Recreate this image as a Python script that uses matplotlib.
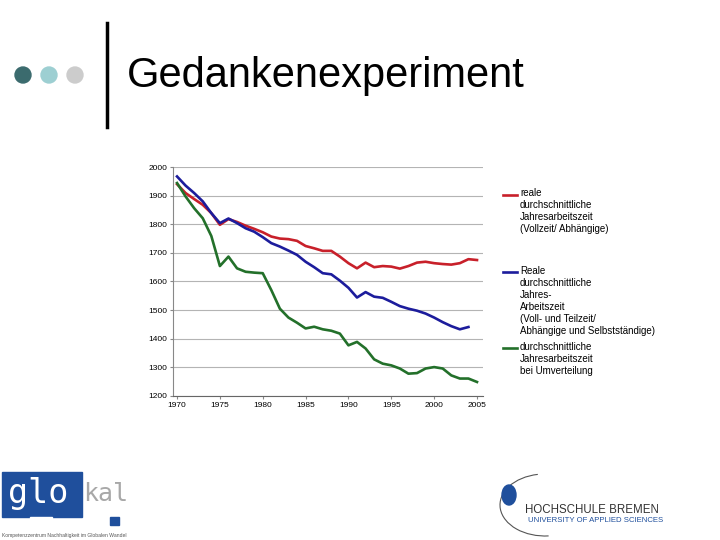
import matplotlib.pyplot as plt
from matplotlib.lines import Line2D
from matplotlib.patches import Rectangle, Ellipse, Arc

plt.rcParams['font.family'] = ['Liberation Sans', 'DejaVu Sans']

years = list(range(1970, 2006))
reale_vollzeit = [1940, 1909, 1888, 1868, 1839, 1798, 1818, 1808, 1795, 1784,
                  1772, 1757, 1750, 1748, 1742, 1724, 1716, 1707, 1707, 1687,
                  1664, 1646, 1666, 1650, 1654, 1652, 1645, 1654, 1666, 1669,
                  1664, 1661, 1659, 1664, 1678, 1675]
years_gesamt = list(range(1970, 2005))
reale_gesamt = [1967, 1935, 1909, 1880, 1839, 1804, 1820, 1804, 1786, 1774,
                1755, 1734, 1722, 1708, 1693, 1669, 1650, 1629, 1625, 1603,
                1578, 1544, 1563, 1547, 1543, 1529, 1514, 1505, 1498, 1488,
                1474, 1458, 1444, 1433, 1441]
umverteilung = [1944, 1897, 1856, 1821, 1759, 1654, 1687, 1646, 1634, 1631,
                1629, 1570, 1505, 1474, 1456, 1436, 1442, 1433, 1428, 1418,
                1377, 1389, 1366, 1328, 1313, 1307, 1296, 1278, 1280, 1296,
                1301, 1296, 1272, 1261, 1261, 1249]

labels = ['reale\ndurchschnittliche\nJahresarbeitszeit\n(Vollzeit/ Abhängige)',
          'Reale\ndurchschnittliche\nJahres-\nArbeitszeit\n(Voll- und Teilzeit/\nAbhängige und Selbstständige)',
          'durchschnittliche\nJahresarbeitszeit\nbei Umverteilung']
colors = ['#c8202a', '#1c1c9c', '#23702a']

W, H = 720, 540
fig = plt.figure(figsize=(7.2, 5.4), dpi=100)

def fx(px):
    return px / W

def fy(py):
    return 1 - py / H

# Kopfzeile: Punkte, Balken, Titel
for cx, c in [(23, '#3b6b6e'), (49, '#9dcfd2'), (75, '#cccccc')]:
    fig.add_artist(Ellipse((fx(cx), fy(75)), 16 / W, 16 / H, color=c,
                           transform=fig.transFigure))
fig.add_artist(Line2D([fx(107), fx(107)], [fy(23), fy(127)], color='black',
                      lw=2.5, transform=fig.transFigure))
fig.text(fx(127), fy(76), 'Gedankenexperiment', fontsize=30, va='center',
         ha='left')

# Diagramm
ax = fig.add_axes([fx(173), fy(396), fx(483) - fx(173), fy(167) - fy(396)])
ax.plot(years, reale_vollzeit, color=colors[0], lw=1.9)
ax.plot(years_gesamt, reale_gesamt, color=colors[1], lw=1.9)
ax.plot(years, umverteilung, color=colors[2], lw=1.9)
ax.set_xlim(1969.53, 2005.7)
ax.set_ylim(1200, 2000)
ax.set_xticks(range(1970, 2006, 5))
ax.set_yticks(range(1200, 2001, 100))
ax.grid(axis='y', color='#b4b4b4', lw=0.8)
ax.set_axisbelow(True)
for s in ['top', 'right']:
    ax.spines[s].set_visible(False)
ax.spines['left'].set_color('#888888')
ax.spines['bottom'].set_color('#666666')
ax.tick_params(labelsize=6, length=2, color='#888888', pad=2)

# Legende von Hand
for lab, c, ytop in zip(labels, colors, [195, 272, 348]):
    fig.add_artist(Line2D([fx(503), fx(517)], [fy(ytop), fy(ytop)], color=c,
                          lw=1.9, transform=fig.transFigure))
    fig.text(fx(520), fy(ytop - 6.5), lab, fontsize=7, va='top', ha='left',
             linespacing=1.25)

# Logo links
fig.add_artist(Rectangle((fx(2), fy(517)), 80 / W, 45 / H, color='#1f4f9c',
                         transform=fig.transFigure))
fig.add_artist(Rectangle((fx(30), fy(525)), 22 / W, 8 / H, color='white',
                         transform=fig.transFigure))
fig.text(fx(8), fy(494), 'glo', fontsize=24, color='white', va='center',
         ha='left', family='DejaVu Sans Mono')
fig.text(fx(83), fy(494), 'kal', fontsize=18, color='#a8a8a8', va='center',
         ha='left', family='DejaVu Sans Mono')
fig.add_artist(Rectangle((fx(110), fy(525)), 9 / W, 8 / H, color='#1f4f9c',
                         transform=fig.transFigure))
fig.text(fx(2), fy(535), 'Kompetenzzentrum Nachhaltigkeit im Globalen Wandel',
         fontsize=3.6, color='#555555', va='center', ha='left')

# Logo rechts
fig.add_artist(Arc((fx(545), fy(505)), 90 / W, 62 / H, theta1=100, theta2=275,
                   color='#555555', lw=0.8, transform=fig.transFigure))
fig.add_artist(Ellipse((fx(509), fy(495)), 14 / W, 20 / H, color='#1f4f9c',
                       transform=fig.transFigure))
fig.text(fx(525), fy(510), 'HOCHSCHULE BREMEN', fontsize=8.3, color='#333333',
         va='center', ha='left')
fig.text(fx(528), fy(521), 'UNIVERSITY OF APPLIED SCIENCES', fontsize=5.6,
         color='#1f4f9c', va='center', ha='left')

fig.savefig('out.png', dpi=100)
